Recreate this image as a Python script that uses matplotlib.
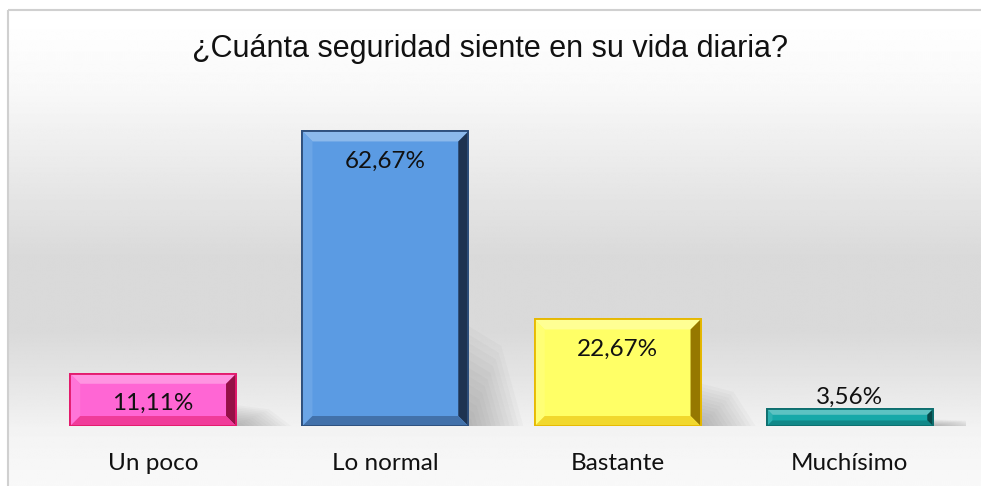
import numpy as np
import matplotlib.pyplot as plt
import matplotlib.colors as mcolors
from matplotlib.patches import Polygon, Rectangle

# Chart data
categories = ['Un poco', 'Lo normal', 'Bastante', 'Muchísimo']
values = [11.11, 62.67, 22.67, 3.56]
value_labels = ['11,11%', '62,67%', '22,67%', '3,56%']
title = '¿Cuánta seguridad siente en su vida diaria?'

fills = ['#ff66d4', '#5b9be3', '#ffff66', '#17a8a8']
edges = ['#e3196b', '#2e4f7c', '#e6b800', '#0d6e6e']


def mix(c, other, t):
    c = np.array(mcolors.to_rgb(c))
    o = np.array(mcolors.to_rgb(other))
    return tuple(c * (1 - t) + o * t)


W, H = 981, 486
fig = plt.figure(figsize=(W / 100, H / 100), dpi=100)

# Background of the chart area: soft vertical gradient
bg = fig.add_axes([0, 0, 1, 1], zorder=0)
rows = np.arange(H)
shade = np.interp(rows, [0, 10, 80, 200, 250, 330, 390, 430, 486],
                  [1, 1, 0.975, 0.89, 0.855, 0.855, 0.91, 0.955, 0.975])
bg.imshow(np.repeat(shade[:, None], W, axis=1), cmap='gray', vmin=0, vmax=1,
          aspect='auto', extent=[8, W, H, 10], interpolation='bilinear')
bg.add_patch(Rectangle((8, 10), W, H, fill=False, edgecolor='#d0d0d0', lw=1.5))
bg.set_xlim(0, W)
bg.set_ylim(H, 0)
bg.axis('off')

# Plot area
ax_left, ax_right, ax_base, ax_top = 37, 966, 426, 97
ax = fig.add_axes([ax_left / W, (H - ax_base) / H, (ax_right - ax_left) / W,
                   (ax_base - ax_top) / H], zorder=1)
ax.patch.set_alpha(0)
ax.set_xlim(-0.5, len(categories) - 0.5)
ax.set_ylim(0, 70)
for s in ax.spines.values():
    s.set_visible(False)
ax.set_xticks([])
ax.set_yticks([])

dx = len(categories) / (ax_right - ax_left)   # data units per pixel
dy = 70 / (ax_base - ax_top)

x = np.arange(len(categories))
width = 0.714

bars = ax.bar(x, values, width=width, color=fills, edgecolor=edges,
              linewidth=1.3, zorder=3)

for i, b in enumerate(bars):
    x0, y0 = b.get_x(), 0
    x1, y1 = x0 + b.get_width(), b.get_height()
    h_px = y1 / dy

    # soft shadow to the right
    L = 55 * dx
    hs = min(y1 * 0.4, 100 * dy)
    n = 12
    for k in range(n):
        f = 1 - k / n
        ax.add_patch(Polygon([(x1, 0), (x1 + L * f, 0), (x1 + L * f * 0.6, hs * f * 0.8),
                              (x1, hs * f)], closed=True, facecolor='#555555',
                             edgecolor='none', alpha=0.035, zorder=2))

    # bevel
    bv = min(10, h_px * 0.33)
    bx, by = bv * dx, bv * dy
    c = fills[i]
    ax.add_patch(Polygon([(x0, y1), (x1, y1), (x1 - bx, y1 - by), (x0 + bx, y1 - by)],
                         facecolor=mix(c, 'white', 0.3), edgecolor='none', zorder=4))
    ax.add_patch(Polygon([(x0, y0), (x0, y1), (x0 + bx, y1 - by), (x0 + bx, y0 + by)],
                         facecolor=mix(c, 'white', 0.1), edgecolor='none', zorder=4))
    ax.add_patch(Polygon([(x1, y0), (x1, y1), (x1 - bx, y1 - by), (x1 - bx, y0 + by)],
                         facecolor=mix(edges[i], 'black', 0.35), edgecolor='none', zorder=4))
    ax.add_patch(Polygon([(x0, y0), (x1, y0), (x1 - bx, y0 + by), (x0 + bx, y0 + by)],
                         facecolor=mix(c, edges[i], 0.55), edgecolor='none', zorder=4))
    ax.add_patch(Rectangle((x0, y0), x1 - x0, y1, fill=False, edgecolor=edges[i],
                           lw=1.3, zorder=5))

    # data label
    if values[i] >= 5:
        off = -30
    else:
        off = 12
    ax.annotate(value_labels[i], (x[i], y1), xytext=(0, off * 0.72),
                textcoords='offset points', ha='center', va='center',
                fontsize=17.5, family='Lato', color='#111111', zorder=6)

    # category label
    ax.annotate(categories[i], (x[i], 0), xytext=(0, -37 * 0.72),
                textcoords='offset points', ha='center', va='center',
                fontsize=17.5, family='Lato', color='#111111', annotation_clip=False)

fig.text(0.5, 1 - 49 / H, title, ha='center', va='center', fontsize=22,
         family='Liberation Sans', color='#111111')

fig.savefig('out.png', dpi=100)
